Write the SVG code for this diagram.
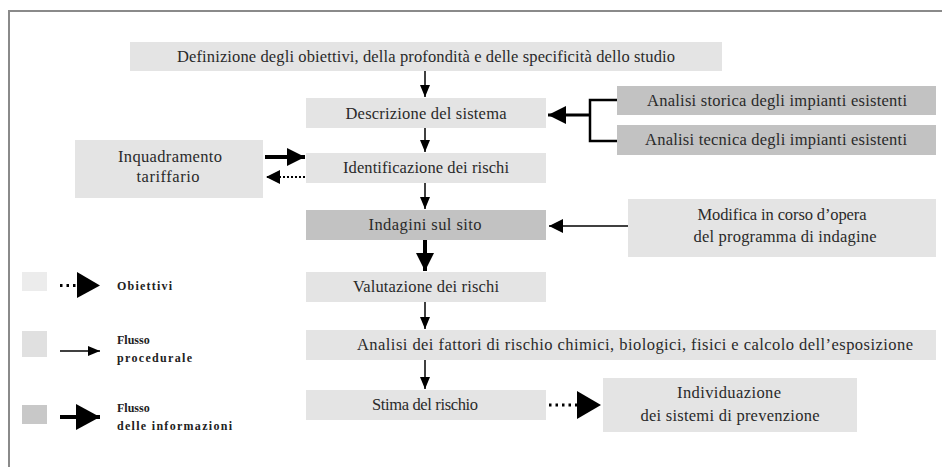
<svg xmlns="http://www.w3.org/2000/svg" width="942" height="467" viewBox="0 0 942 467">
<style>
  .frame{stroke:#8a8a8a;stroke-width:2;fill:none}
  .lt{fill:#e4e4e4}
  .dk{fill:#c2c2c2}
  .t{font-family:"Liberation Serif","Times New Roman",serif;font-size:16.5px;fill:#2a2a2a;text-anchor:middle}
  .lg{font-family:"Liberation Serif","Times New Roman",serif;font-size:12px;font-weight:bold;fill:#222}
  .c{stroke:#000;fill:none}
  .thin{stroke-width:1.5}
  .thick{stroke-width:4}
  .dots{stroke-width:3;stroke-dasharray:2.5 4}
  .fdots{stroke-width:2;stroke-dasharray:2 2}
</style>
<defs>
  <marker id="hThin" markerUnits="userSpaceOnUse" markerWidth="12" markerHeight="10" refX="12" refY="5" orient="auto">
    <path d="M0,0 L12,5 L0,10 z" fill="#000"/>
  </marker>
  <marker id="hBig" markerUnits="userSpaceOnUse" markerWidth="24" markerHeight="26" refX="24" refY="13" orient="auto">
    <path d="M0,0 L24,13 L0,26 z" fill="#000"/>
  </marker>
  <marker id="hMid" markerUnits="userSpaceOnUse" markerWidth="18" markerHeight="18" refX="18" refY="9" orient="auto">
    <path d="M0,0 L18,9 L0,18 z" fill="#000"/>
  </marker>
  <marker id="hSmall" markerUnits="userSpaceOnUse" markerWidth="14" markerHeight="14" refX="14" refY="7" orient="auto">
    <path d="M0,0 L14,7 L0,14 z" fill="#000"/>
  </marker>
</defs>
<rect width="942" height="467" fill="#fff"/>
<path class="frame" d="M9,467 L9,11 L942,11"/>

<g id="n-definizione"><rect class="lt" x="130" y="42" width="592" height="29"/><text class="t" x="426" y="62" textLength="498">Definizione degli obiettivi, della profondità e delle specificità dello studio</text></g>
<g id="n-descrizione"><rect class="lt" x="306" y="98" width="240" height="30"/><text class="t" x="426" y="119" textLength="161">Descrizione del sistema</text></g>
<g id="n-storica"><rect class="dk" x="617" y="86" width="319" height="29"/><text class="t" x="777" y="106" textLength="260">Analisi  storica degli impianti esistenti</text></g>
<g id="n-tecnica"><rect class="dk" x="617" y="125" width="319" height="30"/><text class="t" x="776" y="145" textLength="262">Analisi  tecnica degli impianti esistenti</text></g>
<g id="n-inquadramento"><rect class="lt" x="75" y="140" width="188" height="58"/><text class="t" x="170" y="162" textLength="104">Inquadramento</text><text class="t" x="168" y="182" textLength="63">tariffario</text></g>
<g id="n-identificazione"><rect class="lt" x="306" y="153" width="240" height="30"/><text class="t" x="426" y="173" textLength="166">Identificazione dei rischi</text></g>
<g id="n-indagini"><rect class="dk" x="306" y="210" width="240" height="30"/><text class="t" x="425" y="230" textLength="113">Indagini sul sito</text></g>
<g id="n-modifica"><rect class="lt" x="628" y="199" width="308" height="58"/><text class="t" x="782" y="220" textLength="169">Modifica in corso d’opera</text><text class="t" x="785" y="242" textLength="183">del programma di indagine</text></g>
<g id="n-valutazione"><rect class="lt" x="306" y="272" width="240" height="30"/><text class="t" x="426" y="292" textLength="146">Valutazione dei rischi</text></g>
<g id="n-analisi"><rect class="lt" x="306" y="330" width="630" height="30"/><text class="t" x="635" y="350" textLength="556">Analisi dei fattori di rischio chimici, biologici, fisici e calcolo dell’esposizione</text></g>
<g id="n-stima"><rect class="lt" x="306" y="390" width="240" height="30"/><text class="t" x="425" y="410" textLength="106">Stima del rischio</text></g>
<g id="n-individuazione"><rect class="lt" x="603" y="378" width="254" height="54"/><text class="t" x="729" y="398" textLength="104">Individuazione</text><text class="t" x="730" y="421" textLength="179">dei sistemi di prevenzione</text></g>

<g id="legend">
  <rect x="22" y="272" width="25" height="19" fill="#ececec"/>
  <path class="c dots" d="M60,285.5 L80,285.5"/>
  <path d="M77,272 L100,285.5 L77,298 z" fill="#000"/>
  <text class="lg" x="117" y="290" textLength="55">Obiettivi</text>
  <rect x="22" y="331" width="25" height="26" fill="#e0e0e0"/>
  <path class="c thin" d="M60,351 L100,351" marker-end="url(#hThin)"/>
  <text class="lg" x="117" y="344">Flusso</text>
  <text class="lg" x="117" y="362" textLength="75">procedurale</text>
  <rect x="22" y="405" width="25" height="19" fill="#c8c8c8"/>
  <path class="c thick" d="M60,417 L100,417" marker-end="url(#hBig)"/>
  <text class="lg" x="117" y="412">Flusso</text>
  <text class="lg" x="117" y="430" textLength="115">delle informazioni</text>
</g>

<g id="connectors">
  <path class="c thin" d="M425,71 L425,97" marker-end="url(#hThin)"/>
  <path class="c thin" d="M425,128 L425,152" marker-end="url(#hThin)"/>
  <path class="c thin" d="M425,183 L425,209" marker-end="url(#hThin)"/>
  <path class="c thick" d="M425,240 L425,271" marker-end="url(#hMid)"/>
  <path class="c thin" d="M425,302 L425,329" marker-end="url(#hThin)"/>
  <path class="c thin" d="M425,360 L425,389" marker-end="url(#hThin)"/>
  <path class="c" stroke-width="2.5" d="M617,100 L590,100 L590,141 L617,141"/>
  <path class="c" stroke-width="3" d="M590,115 L548,115" marker-end="url(#hMid)"/>
  <path class="c thick" d="M265,157 L305,157" marker-end="url(#hMid)"/>
  <path class="c fdots" d="M305,177 L266,177" marker-end="url(#hSmall)"/>
  <path class="c thin" d="M628,226 L549,226" marker-end="url(#hSmall)"/>
  <path class="c dots" d="M549,405 L585,405"/>
  <path d="M577,391 L601,405 L577,419 z" fill="#000"/>
</g>
</svg>
